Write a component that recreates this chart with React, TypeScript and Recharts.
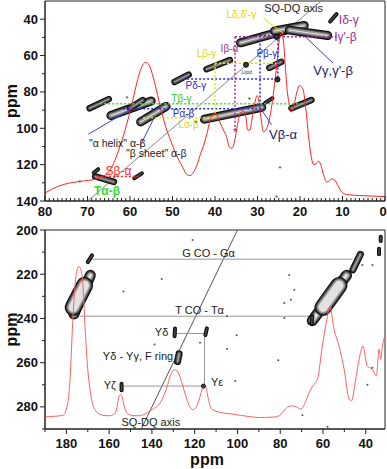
import React from 'react';
import {
  ComposedChart,
  Line,
  XAxis,
  YAxis,
  Scatter,
  ReferenceLine,
  ReferenceDot,
  ReferenceArea,
} from 'recharts';

type Pt = [number, number];
type Seg = [number, number, number, number];
type Lab = [number, number, string, string];

// 1D projection traces (x = ppm SQ, y = position on the DQ axis)
const topTrace: Pt[] = [
  [80, 135.6], [77, 132], [74, 130], [71, 129], [68.5, 128.2], [66.5, 126.5], [65, 124],
  [63.8, 119], [62.8, 113], [61.8, 106], [60.8, 98], [59.8, 89], [58.8, 79], [58, 71.5],
  [57.2, 66], [56.4, 63.8], [55.6, 64.8], [54.9, 69], [54.2, 75], [53.5, 82], [52.8, 89],
  [52, 96], [51.2, 102], [50.4, 107], [49.5, 112.5], [48.6, 117], [47.6, 121.5], [46.6, 125.5],
  [45.8, 126], [45, 124], [44.2, 120], [43.4, 114], [42.7, 109.6], [41.9, 103], [41.2, 96],
  [40.5, 92], [40, 91.5], [39.4, 93.5], [38.8, 97], [38, 101], [37.3, 104.5], [36.6, 110.5],
  [36, 111], [35.3, 106], [34.7, 98], [34.1, 92], [33.4, 90.5], [32.8, 93], [32.3, 101],
  [31.8, 101], [31.3, 95], [30.7, 87], [30.1, 82], [29.6, 86], [29.1, 96], [28.6, 102],
  [28, 101], [27.3, 96], [26.6, 87], [26, 76], [25.4, 64], [24.9, 52], [24.4, 47.5],
  [23.9, 52], [23.5, 64], [23.1, 77], [22.6, 86], [22.1, 91], [21.6, 89.5], [21.1, 84],
  [20.6, 79], [20.1, 76.5], [19.5, 77.5], [19, 82], [18.5, 92], [18, 104], [17.4, 115],
  [16.8, 120], [16.2, 119.5], [15.6, 118], [15, 121], [14.4, 126], [13.8, 129.5],
  [13.2, 129.2], [12.5, 127.8], [11.8, 128.5], [11.2, 131], [10.5, 134], [9.6, 136],
  [8.5, 136.6], [6, 137], [3, 137.3], [0, 137.6],
];

const bottomTrace: Pt[] = [
  [190, 284.5], [185, 284.2], [181.6, 283.8], [179.5, 279], [178.2, 266], [177.2, 245],
  [176.2, 228], [175.2, 219], [174.2, 216.5], [173.2, 218], [172.2, 226], [171.2, 245],
  [170, 263], [168.5, 275], [166.5, 281.5], [163, 283.8], [159.8, 284], [157.5, 283],
  [156.5, 281], [155.6, 276], [154.8, 274.5], [153.8, 276], [153, 279.5], [151.5, 283],
  [148, 284], [145.8, 284], [142, 282.5], [139.6, 281], [136, 278], [133.3, 272], [131, 265],
  [129.5, 263.2], [128.3, 263.6], [126.5, 267.5], [124.5, 274], [122.5, 279.5], [121, 281.2],
  [119.5, 280.5], [118, 277], [117, 273.6], [116, 270.5], [115.2, 270.2], [114.3, 273],
  [113.5, 277], [112, 281], [108, 282.5], [102, 283.3], [95, 284.3], [89.8, 284.8],
  [83, 284.6], [80.4, 284], [78.5, 282], [76.5, 280], [74.2, 279.5], [72.5, 280], [70.3, 281],
  [68, 277.3], [66.5, 273.6], [64.9, 270.6], [62.6, 267.5], [60.3, 252.5], [57.9, 239],
  [56.8, 234.5], [54.8, 245], [52.5, 252.5], [50.1, 263], [47.8, 276.5], [46.7, 277.3],
  [44.7, 267.5], [43.1, 258.5], [41.3, 252.5], [39.3, 261.5], [37, 263], [35, 266],
  [33.8, 254], [33, 258.5], [32.2, 252.5], [31.1, 248],
];

// cross peaks (contours), from one end to the other
const topPeaksLarge: Seg[] = [
  [34, 53, 22.5, 45.5],
  [26, 46.5, 19, 43.5],
  [22.5, 46, 13.5, 49],
  [42.5, 95, 29, 88.5],
  [64.5, 93, 55, 85],
  [57.5, 96.5, 51.5, 88],
];
const topPeaksMedium: Seg[] = [
  [69.5, 89, 65, 84],
  [42, 67.5, 36.5, 62.5],
  [49.5, 74.5, 46.2, 70.5],
  [22, 89, 17.3, 84.5],
  [68.2, 126.5, 63.8, 129.5],
  [27.2, 66.8, 24.4, 63.5],
  [60, 89, 57, 84.5],
];
const topPeaksSmall: Seg[] = [
  [12.9, 41.3, 11.4, 37.2],
  [59, 127.5, 57.2, 124.8],
  [28.2, 86, 26.5, 83.5],
  [68.5, 124.5, 67.5, 122.5],
];
const topSpots: Pt[] = [[32.7, 65.1], [25.3, 73.2], [25.5, 49.8]];
const topSpecks: Pt[] = [[44.5, 96.5], [31.9, 83.6], [24.7, 121.5], [25.5, 137.5], [71.8, 129.3], [60.7, 83]];

// dotted connectivity paths, one list per residue
const proLinks: Seg[] = [
  [29.4, 49, 25.2, 49],
  [29.4, 49, 29.4, 89.3],
  [25.2, 49, 25.2, 73],
  [47.5, 72.9, 25.2, 72.9],
  [61.6, 89.3, 28.5, 89.3],
];
const thrLinks: Seg[] = [[67, 86.5, 19.5, 86.5]];
const leuLinks: Seg[] = [
  [40, 64.2, 25.5, 64.2],
  [40, 64.2, 40, 94.2],
  [56.9, 94.2, 40, 94.2],
];
const ileLinks: Seg[] = [
  [35.3, 49.6, 11.4, 49.6],
  [35.3, 49.6, 35.3, 101],
];
const serLinks: Seg[] = [[67.8, 126.5, 57.6, 126.5]];

// pointer lines from labels to peaks
const bluePointers: Seg[] = [
  [69.8, 103.3, 59.2, 88.7],
  [57.6, 109.6, 54.5, 95],
  [12.2, 64.2, 18.8, 49.6],
  [26.7, 98, 29.9, 86.9],
];
const leuPointer: Seg[] = [[28.6, 39.6, 23.9, 47.8]];
const topDiagonal: Seg[] = [[70, 140, 15, 30]];

const topLabels: Lab[] = [
  [21.5, 33.6, 'SQ-DQ axis', 'axis'],
  [33.8, 37.5, "Lδ,δ'-γ", 'L'],
  [8.5, 40.3, 'Iδ-γ', 'Ibig'],
  [9.3, 49.8, "Iγ'-β", 'Ibig'],
  [36.6, 56, 'Iβ-α', 'I'],
  [27.8, 58.7, 'Pβ-γ', 'P'],
  [42, 59.1, 'Lβ-γ', 'L'],
  [32.5, 68.8, 'Lipid', 'tiny'],
  [12.2, 68.2, "Vγ,γ'-β", 'V'],
  [44.5, 76.5, 'Pδ-γ', 'P'],
  [47.9, 83.5, 'Tβ-γ', 'T'],
  [47.4, 91.8, 'Pα-β', 'P'],
  [46.2, 97.8, 'Lα-β', 'L'],
  [24, 103.3, 'Vβ-α', 'V'],
  [63, 108, '"α helix" α-β', 'note'],
  [53.8, 113.6, '"β sheet" α-β', 'note'],
  [62.7, 123.3, 'Sβ-α', 'S'],
  [65.4, 134.5, 'Tα-β', 'Tbig'],
  [35.3, 102.4, '*', 'I'],
];

const bottomPeaksLarge: Seg[] = [
  [176.5, 238, 168.8, 220.5],
  [65, 241, 49, 220.5],
];
const bottomPeaksBulk: Seg[] = [
  [176.8, 235, 171.5, 225],
  [60, 235, 52.5, 225],
];
const bottomPeaksMedium: Seg[] = [
  [46, 218, 42.5, 211],
  [128, 259.5, 127.3, 256],
];
const bottomPeaksSmall: Seg[] = [
  [129.4, 248, 129.2, 244.5],
  [115, 247.5, 114.3, 244.5],
  [154.2, 272.5, 154.2, 269.5],
  [170, 214.5, 168, 211.5],
  [33.8, 211, 33.8, 208.5],
  [33, 205, 33, 203],
  [65.3, 242.5, 65, 239],
];
const bottomSpots: Pt[] = [[115.9, 270.6]];
const bottomSpecks: Pt[] = [
  [153.3, 227.8], [135.4, 222.2], [138.8, 251.8], [117.5, 251], [104.9, 239], [100.4, 247.6],
  [104.9, 253.8], [101, 268.3], [80.9, 258.9], [75.8, 220.3], [73.4, 227], [75, 231.5],
  [78.1, 233], [78.1, 239.8], [69.6, 283.8], [39.2, 270], [41.6, 215.8], [36.9, 215.8],
  [57.9, 289], [36.9, 262.3], [121, 204.5],
];
const bottomLinks: Seg[] = [
  [168.3, 213.2, 46.2, 213.2],
  [173.8, 239, 66.4, 239],
  [128.7, 246.8, 115.4, 246.8],
  [115.4, 246.8, 115.4, 270.6],
  [154.3, 270.6, 115.4, 270.6],
];
const bottomDiagonal: Seg[] = [[145, 290, 100, 200]];

const bottomLabels: Lab[] = [
  [113.5, 210.5, 'G CO - Gα', 'axis'],
  [117.7, 236.3, 'T CO - Tα', 'axis'],
  [135.5, 246.2, 'Yδ', 'axis'],
  [146.5, 257, 'Yδ - Yγ, F ring', 'axis'],
  [159.7, 270.3, 'Yζ', 'axis'],
  [109.5, 268.8, 'Yε', 'axis'],
  [140.5, 286.8, 'SQ-DQ axis', 'axis'],
];

const topXTicks = Array.from({ length: 81 }, (_, i) => i);
const topYTicks = [40, 50, 60, 70, 80, 90, 100, 110, 120, 130, 140];
const bottomXTicks = [40, 50, 60, 70, 80, 90, 100, 110, 120, 130, 140, 150, 160, 170, 180, 190];
const bottomYTicks = [200, 210, 220, 230, 240, 250, 260, 270, 280, 290];

const FONT = '"Liberation Sans", Arial, sans-serif';
const AXIS = '#222';

const tickText: React.CSSProperties = { fontFamily: FONT, fontWeight: 700, fontSize: 13, fill: '#111' };

const labelStyles: Record<string, { fill: string; size: number; weight?: number }> = {
  axis: { fill: '#222', size: 11 },
  note: { fill: '#222', size: 10.5 },
  P: { fill: '#2b2bd0', size: 10 },
  T: { fill: '#22d022', size: 10 },
  Tbig: { fill: '#33dd33', size: 12, weight: 700 },
  L: { fill: '#e0d800', size: 10 },
  I: { fill: '#992e99', size: 10 },
  Ibig: { fill: '#992e99', size: 12 },
  V: { fill: '#1c1c66', size: 13 },
  S: { fill: '#ff2a2a', size: 12 },
  tiny: { fill: '#333', size: 5 },
};

const linkColors = {
  P: '#2b2bd6',
  T: '#2ee82e',
  L: '#e8e000',
  I: '#9a2f9a',
  S: '#ff2a2a',
};

const TopXTick = (props: any) => {
  const { x, y, payload } = props;
  const v = payload.value;
  const major = v % 10 === 0;
  return (
    <g>
      <line x1={x} x2={x} y1={y} y2={y - (major ? 5 : 3)} stroke={AXIS} />
      {major && (
        <text x={v === 0 ? x - 2 : x} y={y + 15} textAnchor="middle" style={tickText}>
          {v}
        </text>
      )}
    </g>
  );
};

const BottomXTick = (props: any) => {
  const { x, y, payload } = props;
  const v = payload.value;
  const major = v % 20 === 0;
  return (
    <g>
      <line x1={x} x2={x} y1={y} y2={y + (major ? 5 : 3)} stroke={AXIS} />
      {major && (
        <text x={x} y={y + 19} textAnchor="middle" style={tickText}>
          {v}
        </text>
      )}
    </g>
  );
};

const LeftTick = (props: any) => {
  const { x, y, payload } = props;
  const v = payload.value;
  const major = v % 20 === 0;
  return (
    <g>
      <line x1={x} x2={x - (major ? 5 : 3)} y1={y} y2={y} stroke={AXIS} />
      {major && (
        <text x={x - 7} y={y + 4.5} textAnchor="end" style={tickText}>
          {v}
        </text>
      )}
    </g>
  );
};

const yTitle = (props: any) => {
  const vb = props.viewBox;
  const cx = vb.x + 17;
  const cy = vb.y + vb.height / 2;
  return (
    <text
      x={cx}
      y={cy}
      transform={`rotate(-90 ${cx} ${cy})`}
      textAnchor="middle"
      style={{ fontFamily: FONT, fontWeight: 700, fontSize: 16, fill: '#111' }}
    >
      ppm
    </text>
  );
};

const xTitle = (props: any) => {
  const vb = props.viewBox;
  return (
    <text
      x={vb.x + vb.width / 2 - 8}
      y={vb.y + 36}
      textAnchor="middle"
      style={{ fontFamily: FONT, fontWeight: 700, fontSize: 16, fill: '#111' }}
    >
      ppm
    </text>
  );
};

const LabelShape = (props: any) => {
  const { cx, cy, payload } = props;
  const st = labelStyles[payload.kind];
  return (
    <text
      x={cx}
      y={cy}
      textAnchor="middle"
      dominantBaseline="central"
      style={{ fontFamily: FONT, fontSize: st.size, fontWeight: st.weight || 400, fill: st.fill }}
    >
      {payload.text}
    </text>
  );
};

const seg = (s: Seg) => [
  { x: s[0], y: s[1] },
  { x: s[2], y: s[3] },
];

const drawLines = (list: Seg[], key: string, stroke: string, dash?: string, width = 1) =>
  list.map((s, i) => (
    <ReferenceLine
      key={`${key}${i}`}
      segment={seg(s)}
      stroke={stroke}
      strokeWidth={width}
      strokeDasharray={dash}
      ifOverflow="visible"
    />
  ));

// contour peak: dark outline, grey body, light core
const drawPeaks = (list: Seg[], key: string, w: number) =>
  list.flatMap((s, i) => {
    const layers: [string, number][] = [
      ['#0d0d0d', w],
      ['#4a4a4a', w - 2.4],
      ['#9a9a9a', w - 5],
      ['#e2e2e2', w - 8],
    ];
    return layers
      .filter(([, lw]) => lw > 0.8)
      .map(([c, lw], j) => (
        <ReferenceLine
          key={`${key}${j}_${i}`}
          segment={seg(s)}
          stroke={c}
          strokeWidth={lw}
          strokeLinecap="round"
          ifOverflow="visible"
        />
      ));
  });

const drawDots = (list: Pt[], key: string, r: number, fill: string) =>
  list.map((p, i) => (
    <ReferenceDot key={`${key}${i}`} x={p[0]} y={p[1]} r={r} fill={fill} stroke="#111" strokeWidth={r > 1.5 ? 1 : 0} />
  ));

const toXY = (pts: Pt[]) => pts.map(([x, y]) => ({ x, y }));
const toLabels = (labs: Lab[]) => labs.map(([x, y, text, kind]) => ({ x, y, text, kind }));

const TopPanel = () => (
  <ComposedChart width={387} height={222} margin={{ top: 1, right: 2, bottom: 0, left: 0 }}>
    <XAxis
      dataKey="x"
      type="number"
      domain={[0, 80]}
      reversed
      ticks={topXTicks}
      interval={0}
      tickSize={0}
      tickMargin={0}
      tickLine={false}
      tick={<TopXTick />}
      axisLine={{ stroke: AXIS }}
      height={21}
    />
    <YAxis
      dataKey="y"
      type="number"
      domain={[30, 140]}
      reversed
      ticks={topYTicks}
      interval={0}
      tickSize={0}
      tickMargin={0}
      tickLine={false}
      tick={<LeftTick />}
      axisLine={{ stroke: AXIS }}
      width={45}
      label={{ content: yTitle }}
    />
    <ReferenceArea x1={0} x2={80} y1={30} y2={140} fill="none" fillOpacity={0} stroke={AXIS} />
    {drawLines(topDiagonal, 'diag', '#8a8a8a')}
    {drawPeaks(topPeaksLarge, 'pl', 9)}
    {drawPeaks(topPeaksMedium, 'pm', 6.5)}
    {drawPeaks(topPeaksSmall, 'ps', 4)}
    {drawDots(topSpots, 'sp', 2.5, '#333')}
    {drawDots(topSpecks, 'sk', 1.2, '#777')}
    <Line
      data={toXY(topTrace)}
      dataKey="y"
      type="monotone"
      stroke="#ff2020"
      strokeWidth={1}
      dot={false}
      isAnimationActive={false}
    />
    {drawLines(proLinks, 'pro', linkColors.P, '2 2', 1.5)}
    {drawLines(thrLinks, 'thr', linkColors.T, '2 2', 1.5)}
    {drawLines(leuLinks, 'leu', linkColors.L, '2 2', 1.5)}
    {drawLines(ileLinks, 'ile', linkColors.I, '2 2', 1.5)}
    {drawLines(serLinks, 'ser', linkColors.S, '2 2', 1.5)}
    {drawLines(bluePointers, 'bp', '#3040e0')}
    {drawLines(leuPointer, 'lp', '#e8e000')}
    <Scatter data={toLabels(topLabels)} shape={<LabelShape />} isAnimationActive={false} />
  </ComposedChart>
);

const BottomPanel = () => (
  <ComposedChart width={387} height={247} margin={{ top: 8, right: 2, bottom: 0, left: 0 }}>
    <XAxis
      dataKey="x"
      type="number"
      domain={[31, 190]}
      reversed
      ticks={bottomXTicks}
      interval={0}
      tickSize={0}
      tickMargin={0}
      tickLine={false}
      tick={<BottomXTick />}
      axisLine={{ stroke: AXIS }}
      height={40}
      label={{ content: xTitle }}
    />
    <YAxis
      dataKey="y"
      type="number"
      domain={[200, 290]}
      reversed
      ticks={bottomYTicks}
      interval={0}
      tickSize={0}
      tickMargin={0}
      tickLine={false}
      tick={<LeftTick />}
      axisLine={{ stroke: AXIS }}
      width={45}
      label={{ content: yTitle }}
    />
    <ReferenceArea x1={31} x2={190} y1={200} y2={290} fill="none" fillOpacity={0} stroke={AXIS} />
    {drawLines(bottomDiagonal, 'bdiag', '#555')}
    {drawLines(bottomLinks, 'bl', '#999')}
    {drawPeaks(bottomPeaksLarge, 'bpl', 11)}
    {drawPeaks(bottomPeaksBulk, 'bpb', 17)}
    {drawPeaks(bottomPeaksMedium, 'bpm', 7)}
    {drawPeaks(bottomPeaksSmall, 'bps', 4)}
    {drawDots(bottomSpots, 'bsp', 2, '#444')}
    {drawDots(bottomSpecks, 'bsk', 1, '#555')}
    <Line
      data={toXY(bottomTrace)}
      dataKey="y"
      type="monotone"
      stroke="#ff6060"
      strokeWidth={1}
      dot={false}
      isAnimationActive={false}
    />
    <Scatter data={toLabels(bottomLabels)} shape={<LabelShape />} isAnimationActive={false} />
  </ComposedChart>
);

export default function App() {
  return (
    <div style={{ position: 'absolute', left: 0, top: 0, width: 387, height: 469, background: '#fff' }}>
      <div style={{ position: 'absolute', left: 0, top: 0 }}>
        <TopPanel />
      </div>
      <div style={{ position: 'absolute', left: 0, top: 222 }}>
        <BottomPanel />
      </div>
    </div>
  );
}
